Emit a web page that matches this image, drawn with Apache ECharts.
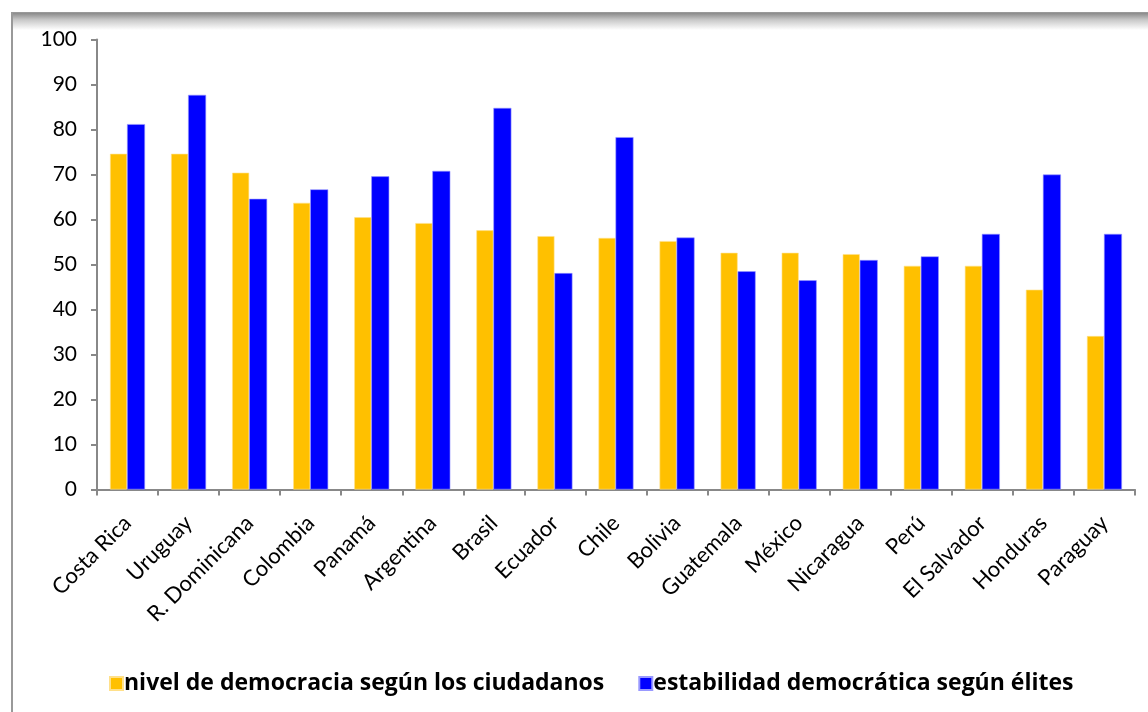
<!DOCTYPE html>
<html>
<head>
<meta charset="utf-8">
<script src="https://cdn.jsdelivr.net/npm/echarts@6/dist/echarts.min.js"></script>
<style>
html,body{margin:0;padding:0;background:#fff;}
#chart{width:1148px;height:712px;}
</style>
</head>
<body>
<div id="chart"></div>
<script>
var categories = ["Costa Rica","Uruguay","R. Dominicana","Colombia","Panamá","Argentina","Brasil","Ecuador","Chile","Bolivia","Guatemala","México","Nicaragua","Perú","El Salvador","Honduras","Paraguay"];
var nivelCiudadanos = [74.6,74.6,70.4,63.7,60.5,59.2,57.6,56.3,55.9,55.2,52.6,52.6,52.3,49.7,49.7,44.4,34.1];
var estabilidadElites = [81.2,87.7,64.6,66.7,69.6,70.8,84.8,48.1,78.3,56.0,48.5,46.5,51.0,51.8,56.8,70.0,56.8];
var seriesNames = ["nivel de democracia según los ciudadanos","estabilidad democrática según élites"];

var chart = echarts.init(document.getElementById('chart'), null, {renderer:'canvas'});
var font = 'Lato, "Open Sans", sans-serif';
chart.setOption({
  animation:false,
  backgroundColor:'#fff',
  graphic:[
    {type:'rect', shape:{x:12,y:13,width:1160,height:720}, style:{fill:'#fff',stroke:'#999',lineWidth:2}, z:-10},
    {type:'rect', shape:{x:13,y:13,width:1160,height:17}, style:{fill:new echarts.graphic.LinearGradient(0,0,0,1,[{offset:0,color:'#8a8a8a'},{offset:0.4,color:'#c8c8c8'},{offset:1,color:'#ffffff'}])}, z:-9}
  ],
  grid:{left:97,right:13,top:39.5,bottom:222.5,containLabel:false},
  legend:{
    data:seriesNames,
    bottom:12,
    left:104,
    itemWidth:13,itemHeight:13,itemGap:34,
    icon:'rect',
    textStyle:{fontFamily:'"Open Sans", Lato, sans-serif',fontWeight:'bold',fontSize:23,color:'#000',padding:[0,0,0,-4]}
  },
  xAxis:{
    type:'category',
    data:categories,
    axisLine:{lineStyle:{color:'#888',width:2}},
    axisTick:{show:true,alignWithLabel:false,length:6,lineStyle:{color:'#888',width:2}},
    axisLabel:{rotate:45,interval:0,fontFamily:font,fontSize:22,color:'#000',margin:30}
  },
  yAxis:{
    type:'value',min:0,max:100,interval:10,
    axisLine:{show:true,lineStyle:{color:'#888',width:2}},
    axisTick:{show:true,length:6,lineStyle:{color:'#888',width:2}},
    splitLine:{show:false},
    axisLabel:{fontFamily:font,fontSize:21,color:'#000',margin:20}
  },
  series:[
    {name:seriesNames[0],type:'bar',data:nivelCiudadanos,barWidth:17,barGap:'0%',
     itemStyle:{color:'#FFC000',borderColor:'#FFE08A',borderWidth:0.6}},
    {name:seriesNames[1],type:'bar',data:estabilidadElites,barWidth:18,barGap:'0%',
     itemStyle:{color:'#0000FF',borderColor:'#9999FF',borderWidth:0.6}}
  ]
});
</script>
</body>
</html>
